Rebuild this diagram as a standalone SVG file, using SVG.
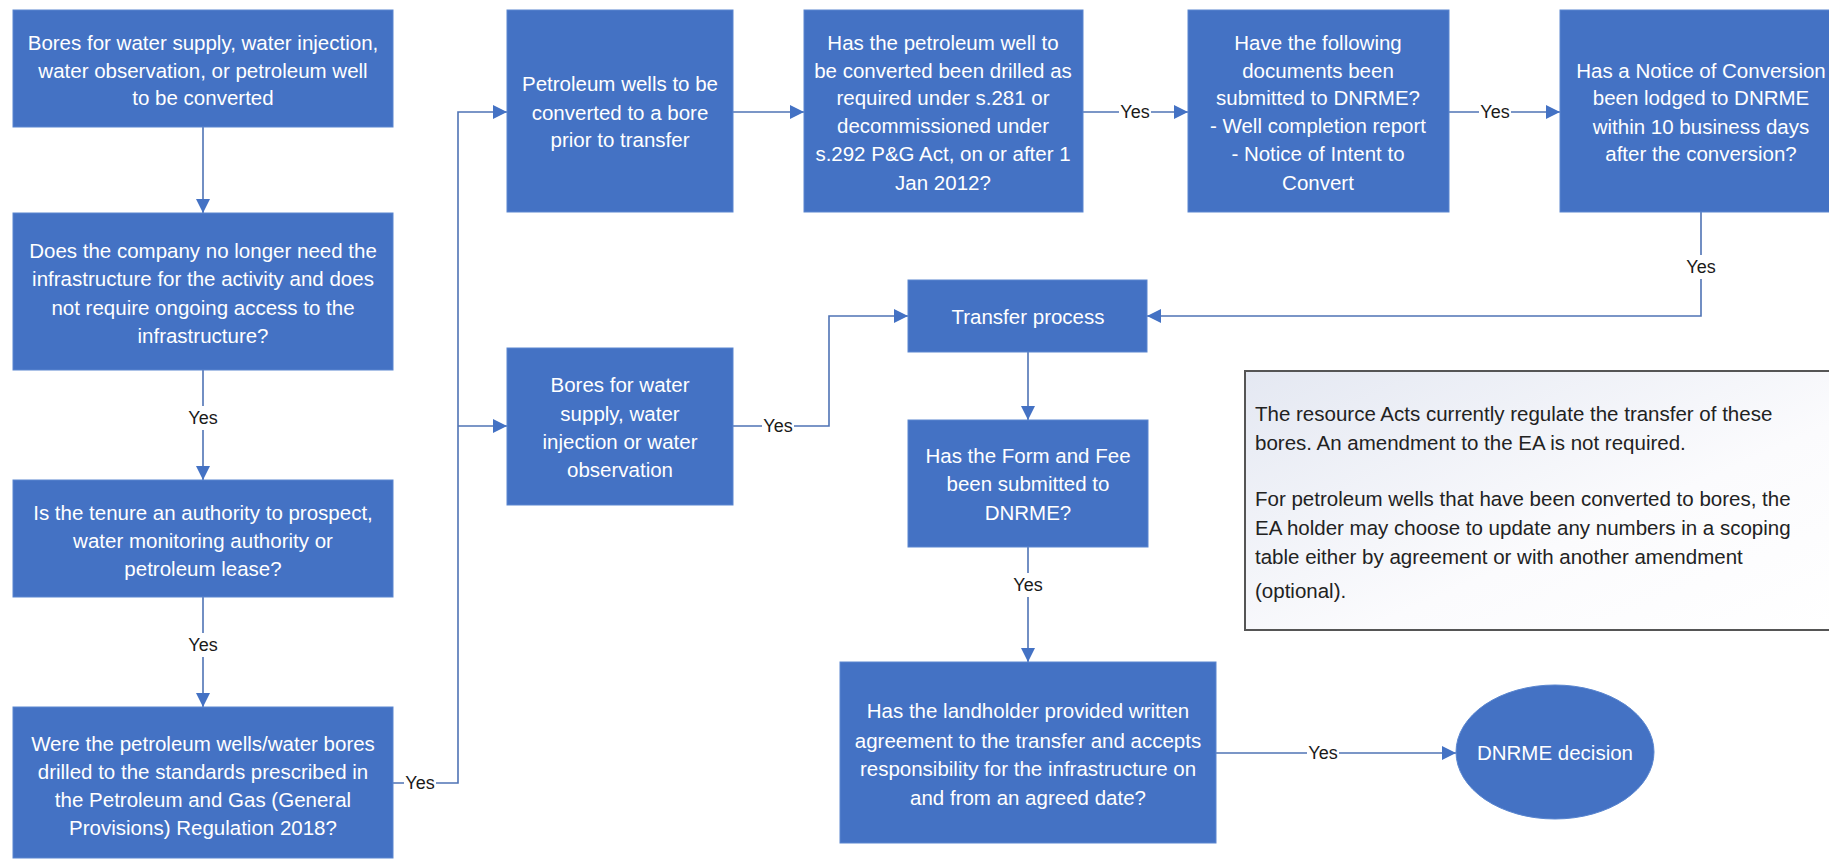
<svg xmlns="http://www.w3.org/2000/svg" width="1829" height="861" viewBox="0 0 1829 861">
<defs>
<style>
.box{fill:#4472C4;stroke:#5a86d0;stroke-width:1}
.bt{fill:#ffffff;font-family:"Liberation Sans",Arial,sans-serif;font-size:20.5px;text-anchor:middle;dominant-baseline:central}
.lbl{fill:#1a1a1a;font-family:"Liberation Sans",Arial,sans-serif;font-size:18px;text-anchor:middle;dominant-baseline:central}
.lblbg{fill:#ffffff}
.con{fill:none;stroke:#4f73b5;stroke-width:1.6}
.info{fill:#222222;font-family:"Liberation Sans",Arial,sans-serif;font-size:20.5px;dominant-baseline:central}
</style>
<marker id="arr" viewBox="0 0 10 10" refX="10" refY="5" markerWidth="14" markerHeight="14" markerUnits="userSpaceOnUse" orient="auto">
<path d="M0,0 L10,5 L0,10 z" fill="#4472C4"/>
</marker>
<linearGradient id="infoGrad" x1="0" y1="0" x2="1" y2="1">
<stop offset="0" stop-color="#e4e8f2"/>
<stop offset="0.6" stop-color="#fbfbfd"/>
<stop offset="1" stop-color="#ffffff"/>
</linearGradient>
</defs>
<rect width="1829" height="861" fill="#ffffff"/>

<g id="connectors">
<path class="con" d="M203,127 V213" marker-end="url(#arr)"/>
<path class="con" d="M203,370 V480" marker-end="url(#arr)"/>
<path class="con" d="M203,597 V707" marker-end="url(#arr)"/>
<path class="con" d="M393,783 H458 V112 H507" marker-end="url(#arr)"/>
<path class="con" d="M458,426 H507" marker-end="url(#arr)"/>
<path class="con" d="M733,112 H804" marker-end="url(#arr)"/>
<path class="con" d="M1083,112 H1188" marker-end="url(#arr)"/>
<path class="con" d="M1449,112 H1560" marker-end="url(#arr)"/>
<path class="con" d="M1701,212 V316 H1147" marker-end="url(#arr)"/>
<path class="con" d="M733,426 H829 V316 H908" marker-end="url(#arr)"/>
<path class="con" d="M1028,352 V420" marker-end="url(#arr)"/>
<path class="con" d="M1028,547 V662" marker-end="url(#arr)"/>
<path class="con" d="M1216,753 H1456" marker-end="url(#arr)"/>
<g id="labels">
<rect class="lblbg" x="186" y="406" width="34" height="24"/><text class="lbl" x="203" y="418">Yes</text>
<rect class="lblbg" x="186" y="633" width="34" height="24"/><text class="lbl" x="203" y="645">Yes</text>
<rect class="lblbg" x="404" y="772" width="32" height="22"/><text class="lbl" x="420" y="783">Yes</text>
<rect class="lblbg" x="1119" y="101" width="32" height="22"/><text class="lbl" x="1135" y="112">Yes</text>
<rect class="lblbg" x="1479" y="101" width="32" height="22"/><text class="lbl" x="1495" y="112">Yes</text>
<rect class="lblbg" x="1684" y="255" width="34" height="24"/><text class="lbl" x="1701" y="267">Yes</text>
<rect class="lblbg" x="762" y="415" width="32" height="22"/><text class="lbl" x="778" y="426">Yes</text>
<rect class="lblbg" x="1011" y="573" width="34" height="24"/><text class="lbl" x="1028" y="585">Yes</text>
<rect class="lblbg" x="1307" y="742" width="32" height="22"/><text class="lbl" x="1323" y="753">Yes</text>
</g>
</g>

<g id="n1">
<rect class="box" x="13" y="10" width="380" height="117"/>
<text class="bt" x="203" y="42">Bores for water supply, water injection,</text>
<text class="bt" x="203" y="70">water observation, or petroleum well</text>
<text class="bt" x="203" y="97">to be converted</text>
</g>
<g id="n2">
<rect class="box" x="13" y="213" width="380" height="157"/>
<text class="bt" x="203" y="250">Does the company no longer need the</text>
<text class="bt" x="203" y="278">infrastructure for the activity and does</text>
<text class="bt" x="203" y="307">not require ongoing access to the</text>
<text class="bt" x="203" y="335">infrastructure?</text>
</g>
<g id="n3">
<rect class="box" x="13" y="480" width="380" height="117"/>
<text class="bt" x="203" y="512">Is the tenure an authority to prospect,</text>
<text class="bt" x="203" y="540">water monitoring authority or</text>
<text class="bt" x="203" y="568">petroleum lease?</text>
</g>
<g id="n4">
<rect class="box" x="13" y="707" width="380" height="151"/>
<text class="bt" x="203" y="743">Were the petroleum wells/water bores</text>
<text class="bt" x="203" y="771">drilled to the standards prescribed in</text>
<text class="bt" x="203" y="799">the Petroleum and Gas (General</text>
<text class="bt" x="203" y="827">Provisions) Regulation 2018?</text>
</g>
<g id="n5">
<rect class="box" x="507" y="10" width="226" height="202"/>
<text class="bt" x="620" y="83">Petroleum wells to be</text>
<text class="bt" x="620" y="112">converted to a bore</text>
<text class="bt" x="620" y="139">prior to transfer</text>
</g>
<g id="n6">
<rect class="box" x="804" y="10" width="279" height="202"/>
<text class="bt" x="943" y="42">Has the petroleum well to</text>
<text class="bt" x="943" y="70">be converted been drilled as</text>
<text class="bt" x="943" y="97">required under s.281 or</text>
<text class="bt" x="943" y="125">decommissioned under</text>
<text class="bt" x="943" y="153">s.292 P&amp;G Act, on or after 1</text>
<text class="bt" x="943" y="182">Jan 2012?</text>
</g>
<g id="n7">
<rect class="box" x="1188" y="10" width="261" height="202"/>
<text class="bt" x="1318" y="42">Have the following</text>
<text class="bt" x="1318" y="70">documents been</text>
<text class="bt" x="1318" y="97">submitted to DNRME?</text>
<text class="bt" x="1318" y="125">- Well completion report</text>
<text class="bt" x="1318" y="153">- Notice of Intent to</text>
<text class="bt" x="1318" y="182">Convert</text>
</g>
<g id="n8">
<rect class="box" x="1560" y="10" width="282" height="202"/>
<text class="bt" x="1701" y="70">Has a Notice of Conversion</text>
<text class="bt" x="1701" y="97">been lodged to DNRME</text>
<text class="bt" x="1701" y="126">within 10 business days</text>
<text class="bt" x="1701" y="153">after the conversion?</text>
</g>
<g id="n9">
<rect class="box" x="507" y="348" width="226" height="157"/>
<text class="bt" x="620" y="384">Bores for water</text>
<text class="bt" x="620" y="413">supply, water</text>
<text class="bt" x="620" y="441">injection or water</text>
<text class="bt" x="620" y="469">observation</text>
</g>
<g id="n10">
<rect class="box" x="908" y="280" width="239" height="72"/>
<text class="bt" x="1028" y="316">Transfer process</text>
</g>
<g id="n11">
<rect class="box" x="908" y="420" width="240" height="127"/>
<text class="bt" x="1028" y="455">Has the Form and Fee</text>
<text class="bt" x="1028" y="483">been submitted to</text>
<text class="bt" x="1028" y="512">DNRME?</text>
</g>
<g id="n12">
<rect class="box" x="840" y="662" width="376" height="181"/>
<text class="bt" x="1028" y="710">Has the landholder provided written</text>
<text class="bt" x="1028" y="740">agreement to the transfer and accepts</text>
<text class="bt" x="1028" y="768">responsibility for the infrastructure on</text>
<text class="bt" x="1028" y="797">and from an agreed date?</text>
</g>
<g id="n13">
<ellipse class="box" cx="1555" cy="752" rx="99" ry="67"/>
<text class="bt" x="1555" y="752">DNRME decision</text>
</g>
<g id="n14">
<rect x="1245" y="371" width="590" height="259" fill="url(#infoGrad)" stroke="#555555" stroke-width="2"/>
<text class="info" x="1255" y="413">The resource Acts currently regulate the transfer of these</text>
<text class="info" x="1255" y="442">bores. An amendment to the EA is not required.</text>
<text class="info" x="1255" y="498">For petroleum wells that have been converted to bores, the</text>
<text class="info" x="1255" y="527">EA holder may choose to update any numbers in a scoping</text>
<text class="info" x="1255" y="556">table either by agreement or with another amendment</text>
<text class="info" x="1255" y="590">(optional).</text>
</g>
</svg>
